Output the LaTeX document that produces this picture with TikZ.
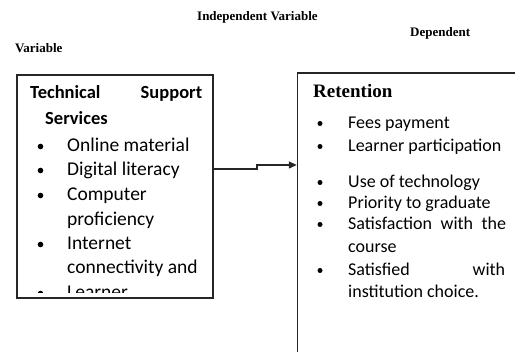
\documentclass[tikz,border=0pt]{standalone}
\usepackage{fontspec}
\setmainfont{Liberation Serif}
\newfontfamily\bodyfont{Carlito}
\usetikzlibrary{arrows.meta}

\tikzset{
  heading/.style={font=\bfseries\fontsize{13}{15}\selectfont, inner sep=0pt, anchor=base west},
  boxframe/.style={draw=black!85, line width=1.4pt, rectangle, inner sep=0pt},
  itemL/.style={font=\bodyfont\fontsize{19.5}{24}\selectfont, inner sep=0pt, anchor=base west},
  itemR/.style={font=\bodyfont\fontsize{18}{22}\selectfont, inner sep=0pt, anchor=base west},
  conn/.style={draw=black!85, line width=1.3pt, -{Triangle[length=8pt,width=7pt]}},
}
% filled bullet in front of a list entry
\newcommand{\bulletat}[3]{\fill[black] (#1,#2) circle[radius=#3];}

\begin{document}
\begin{tikzpicture}[x=1pt,y=-1pt]
\useasboundingbox (0,0) rectangle (515,352);

% headings
\node[heading] (iv)  at (197,21) {Independent Variable};
\node[heading] (dv)  at (410,37) {Dependent};
\node[heading] (var) at (15,53)  {Variable};

% boxes
\node[boxframe, minimum width=196pt, minimum height=223pt] (tss) at (115,186.5) {};
\node[boxframe, minimum width=240pt, minimum height=300pt] (ret) at (417.5,223) {};

% left box text
\node[itemL, font=\bodyfont\bfseries\fontsize{18.5}{24}\selectfont] (t1) at (30,99)
  {\makebox[172pt][l]{Technical\hfill Support}};
\node[itemL, font=\bodyfont\bfseries\fontsize{18.5}{24}\selectfont] (t2) at (45,125) {Services};
\node[itemL] (l1) at (67,152) {Online material};
\node[itemL] (l2) at (67,176) {Digital literacy};
\node[itemL] (l3) at (67,201) {Computer};
\node[itemL] (l4) at (67,226) {proficiency};
\node[itemL] (l5) at (67,250) {Internet};
\node[itemL] (l6) at (67,274) {connectivity and};
\bulletat{40.5}{146.5}{2.8}
\bulletat{40.5}{170.5}{2.8}
\bulletat{40.5}{195.5}{2.8}
\bulletat{40.5}{244.5}{2.8}
\begin{scope}
  \clip (17,75) rectangle (213,292.5);
  \node[itemL] (l7) at (67,299) {Learner};
  \bulletat{40.5}{293.5}{2.8}
\end{scope}

% right box text
\node[heading, font=\bfseries\fontsize{19}{22}\selectfont] (r0) at (313,98) {Retention};
\node[itemR] (r1) at (348,128.5) {Fees payment};
\node[itemR] (r2) at (348,151.5) {Learner participation};
\node[itemR] (r3) at (348,187.5) {Use of technology};
\node[itemR] (r4) at (348,208.5) {Priority to graduate};
\node[itemR] (r5) at (348,229.5) {\makebox[158pt][l]{Satisfaction\hfill with\hfill the}};
\node[itemR] (r6) at (348,252.5) {course};
\node[itemR] (r7) at (348,275.5) {\makebox[157pt][l]{Satisfied\hfill with}};
\node[itemR] (r8) at (348,297.5) {institution choice.};
\bulletat{320}{123.5}{2.5}
\bulletat{320}{146.5}{2.5}
\bulletat{320}{182.5}{2.5}
\bulletat{320}{203.5}{2.5}
\bulletat{320}{224.5}{2.5}
\bulletat{320}{270.5}{2.5}

% connector
\coordinate (bend) at (257,169);
\draw[conn] (tss.east |- bend) -- (bend) |- (ret.west |- 0,165);
\end{tikzpicture}
\end{document}
